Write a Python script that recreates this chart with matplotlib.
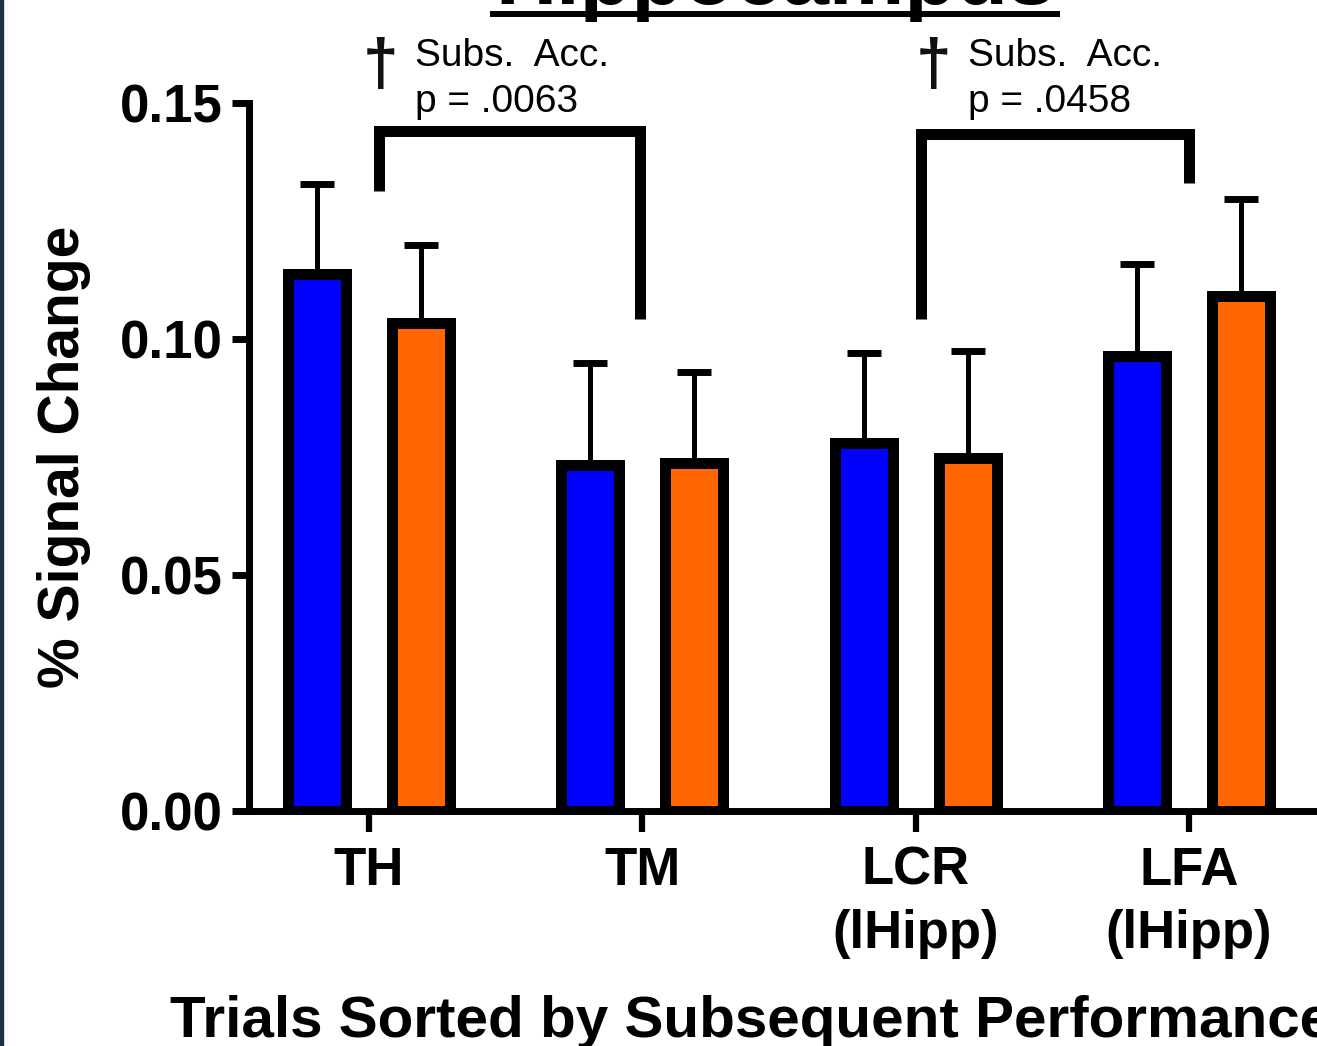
import numpy as np
import matplotlib.pyplot as plt
from matplotlib.patches import Rectangle
from matplotlib.lines import Line2D

plt.rcParams['font.family'] = ['Liberation Sans', 'DejaVu Sans']

# data
groups = ['TH', 'TM', 'LCR\n(lHipp)', 'LFA\n(lHipp)']
blue_vals = [0.1137, 0.0732, 0.0779, 0.0965]
blue_err = [0.0191, 0.0217, 0.0191, 0.0194]
orange_vals = [0.1033, 0.0738, 0.0747, 0.1092]
orange_err = [0.0166, 0.0192, 0.0228, 0.0205]
yticks = [0.00, 0.05, 0.10, 0.15]
ytick_labels = ['0.00', '0.05', '0.10', '0.15']

# significance brackets: (left x, right x, left foot, top, right foot), dagger x, text x, label
brackets = [
    (0.035, 0.99, 0.1314, 0.1441, 0.1042, 0.040, 0.168, 'p = .0063'),
    (2.02, 3.0, 0.1042, 0.1434, 0.1331, 2.064, 2.192, 'p = .0458'),
]

W, H = 1317, 1046
fig = plt.figure(figsize=(W / 100, H / 100), dpi=100)
ax = fig.add_axes([249 / W, (H - 811) / H, (1314 - 249) / W, (811 - 103) / H])

x = np.arange(len(groups))
off = 0.19
bw = 0.212
ax.bar(x - off, blue_vals, width=bw, color='#0000FF', edgecolor='black', linewidth=7.9, zorder=3)
ax.bar(x + off, orange_vals, width=bw, color='#FF6600', edgecolor='black', linewidth=7.9, zorder=3)
for xs, v, e in [(x - off, blue_vals, blue_err), (x + off, orange_vals, orange_err)]:
    ax.errorbar(xs, v, yerr=[np.zeros(len(e)), e], fmt='none', ecolor='black',
                elinewidth=3.6, capsize=12.5, capthick=5, zorder=2)

for xl, xr, yl, yt, yr, xd, xt, label in brackets:
    ax.plot([xl, xl, xr, xr], [yl, yt, yt, yr], color='black', lw=7.9,
            solid_joinstyle='miter', solid_capstyle='butt', zorder=4)
    ax.text(xd, 0.1576, '\u2020', fontsize=46, fontweight='bold', color='#111111',
            ha='center', va='center')
    ax.text(xt, 0.1578, 'Subs.  Acc.', fontsize=28, ha='left', va='baseline')
    ax.text(xt, 0.1481, label, fontsize=28, ha='left', va='baseline')

ax.set_xlim(-0.439, 3.457)
ax.set_ylim(0, 0.15)
ax.set_yticks(yticks)
ax.set_yticklabels(ytick_labels, fontsize=38, fontweight='bold')
ax.set_xticks(x)
ax.set_xticklabels(groups, fontsize=38, fontweight='bold', linespacing=1.35)
ax.tick_params(axis='y', length=12, width=5, pad=7)
ax.tick_params(axis='x', length=15, width=4.5, pad=10)
for s in ['top', 'right']:
    ax.spines[s].set_visible(False)
for s in ['left', 'bottom']:
    ax.spines[s].set_linewidth(5)

fig.text(64 / W, 1 - 457 / H, '% Signal Change', rotation=90, fontsize=41, fontweight='bold',
         ha='center', va='center')
fig.text(170 / W, 1 - 1037 / H, 'Trials Sorted by Subsequent Performance', fontsize=42,
         fontweight='bold', ha='left', va='baseline')

# title, mostly cropped off at the top (as in the source figure)
fig.text(775 / W, 1 - 4 / H, 'Hippocampus', fontsize=61, fontweight='bold', ha='center', va='baseline')
fig.add_artist(Line2D([493 / W, 1057 / W], [1 - 14 / H, 1 - 14 / H], color='black', lw=4.3,
                      transform=fig.transFigure))

# dark frame edge on the left
fig.add_artist(Rectangle((0, 0), 3 / W, 1, color='#1c2f45', transform=fig.transFigure))

fig.savefig('out.png', dpi=100)
